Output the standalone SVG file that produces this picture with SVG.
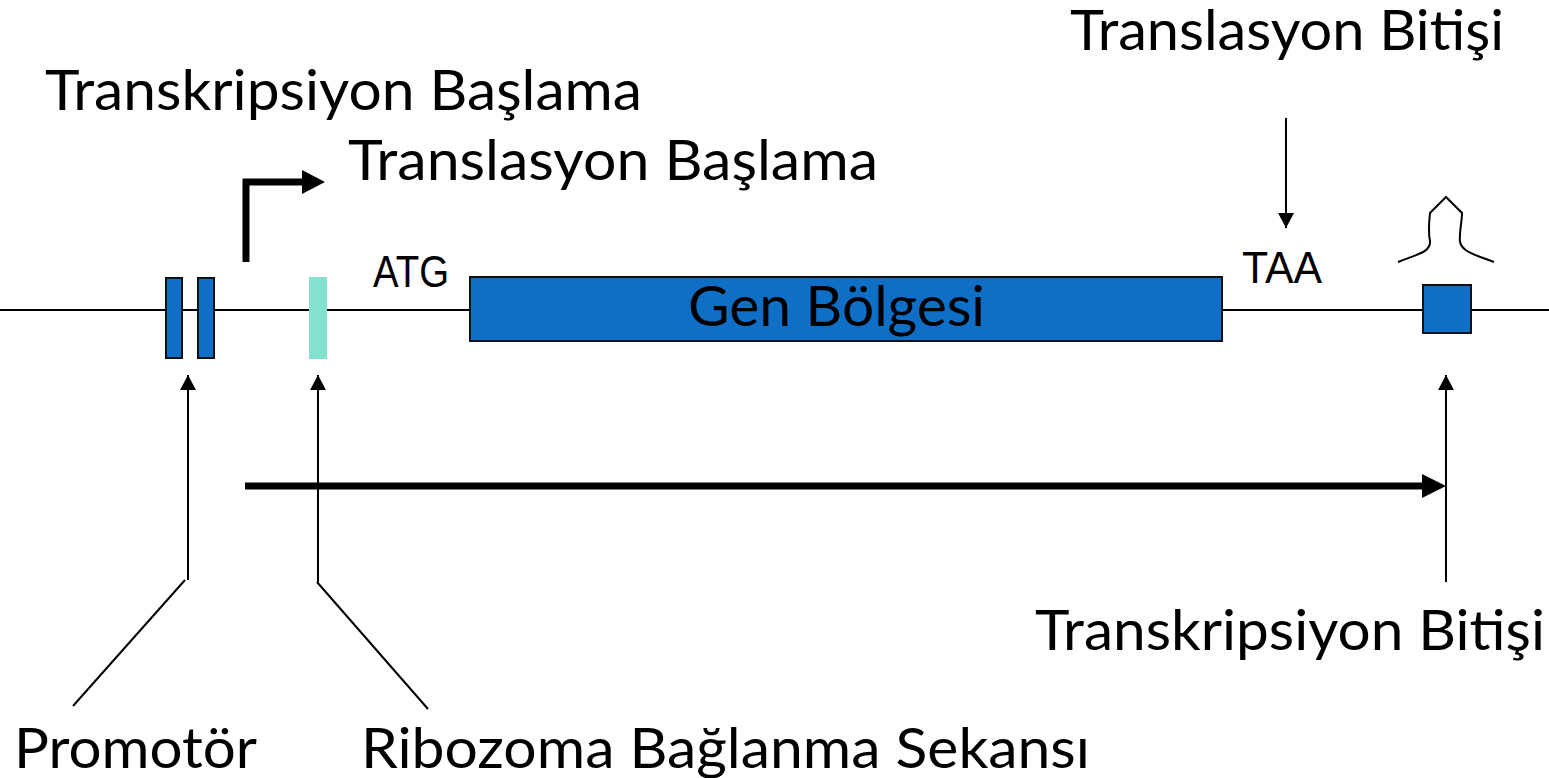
<svg xmlns="http://www.w3.org/2000/svg" width="1549" height="778" viewBox="0 0 1549 778">
<style>
.lbl{font-family:Lato,"Open Sans","Noto Sans",sans-serif;font-size:57px;fill:#000}
.code{font-family:"Liberation Sans",Arial,sans-serif;font-size:44px;fill:#000}
.thin{stroke:#000;stroke-width:2;fill:none}
.thick{stroke:#000;stroke-width:7;fill:none}
.blue{fill:#0F6FC6;stroke:#111;stroke-width:2}
</style>
<defs>
<marker id="ah" markerUnits="userSpaceOnUse" markerWidth="16" markerHeight="16" refX="15" refY="8" orient="auto">
<path d="M0,0 L15,8 L0,16 Z" fill="#000"/>
</marker>
</defs>
<g id="dna"><line x1="0" y1="310" x2="1549" y2="310" class="thin"/></g>
<g id="promoter">
<rect x="166" y="278" width="16" height="80" class="blue"/>
<rect x="198" y="278" width="16" height="80" class="blue"/>
</g>
<g id="rbs"><rect x="309" y="277" width="18" height="82" fill="#84E0CF"/></g>
<g id="gene">
<rect x="470" y="277" width="752" height="64" class="blue"/>
<text x="688" y="326" class="lbl" textLength="297" lengthAdjust="spacingAndGlyphs">Gen Bölgesi</text>
</g>
<g id="terminator">
<rect x="1423" y="285" width="48" height="48" class="blue"/>
<path d="M1398,262 C1418,254 1431,252 1430,241 C1428,232 1429,222 1430,213 L1446,197 L1462,213 C1462,222 1459,232 1460,242 C1462,252 1476,255 1494,262" class="thin"/>
</g>
<g id="connectors">
<path d="M246,262 V182 H305" class="thick"/>
<polygon points="302,170 325,182 302,194" fill="#000"/>
<line x1="245" y1="486" x2="1424" y2="486" class="thick"/>
<polygon points="1422,474 1446,486 1422,498" fill="#000"/>
<line x1="188" y1="580" x2="188" y2="375" class="thin" marker-end="url(#ah)"/>
<line x1="318" y1="582" x2="318" y2="375" class="thin" marker-end="url(#ah)"/>
<line x1="1446" y1="582" x2="1446" y2="375" class="thin" marker-end="url(#ah)"/>
<line x1="1286" y1="118" x2="1286" y2="228" class="thin" marker-end="url(#ah)"/>
<line x1="185" y1="580" x2="73" y2="706" class="thin"/>
<line x1="317" y1="582" x2="428" y2="709" class="thin"/>
</g>
<g id="labels">
<text x="45" y="110" class="lbl" textLength="597" lengthAdjust="spacingAndGlyphs">Transkripsiyon Başlama</text>
<text x="348" y="180" class="lbl" textLength="530" lengthAdjust="spacingAndGlyphs">Translasyon Başlama</text>
<text x="1070" y="50" class="lbl" textLength="434" lengthAdjust="spacingAndGlyphs">Translasyon Bitişi</text>
<text x="1035" y="650" class="lbl" textLength="510" lengthAdjust="spacingAndGlyphs">Transkripsiyon Bitişi</text>
<text x="14" y="768" class="lbl" textLength="243" lengthAdjust="spacingAndGlyphs">Promotör</text>
<text x="361" y="768" class="lbl" textLength="729" lengthAdjust="spacingAndGlyphs">Ribozoma Bağlanma Sekansı</text>
<text x="373" y="287" class="code" textLength="76" lengthAdjust="spacingAndGlyphs">ATG</text>
<text x="1242" y="283" class="code" textLength="80" lengthAdjust="spacingAndGlyphs">TAA</text>
</g>
</svg>
